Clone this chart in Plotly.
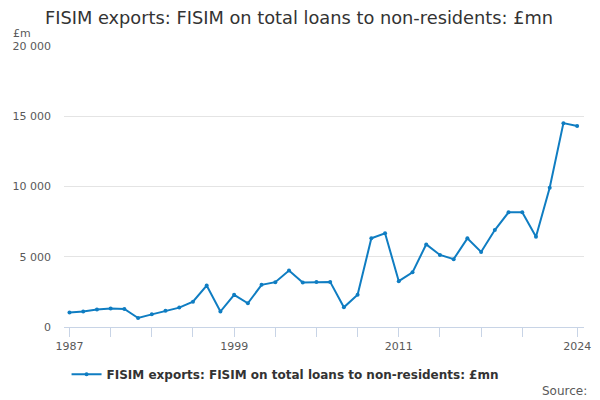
import plotly.graph_objects as go

years = list(range(1987, 2025))
values = [1040, 1110, 1250, 1310, 1290, 640, 900, 1150, 1380, 1800,
          2950, 1100, 2290, 1690, 3000, 3190, 4020, 3170, 3210, 3210,
          1400, 2290, 6310, 6670, 3260, 3890, 5880, 5130, 4830, 6310,
          5340, 6900, 8160, 8170, 6430, 9910, 14510, 14300]
series_name = "FISIM exports: FISIM on total loans to non-residents: £mn"
tick_years = [1987, 1990, 1993, 1996, 1999, 2002, 2005, 2008, 2011, 2014, 2017, 2020, 2024]
tick_labels = ["1987", "", "", "", "1999", "", "", "", "2011", "", "", "", "2024"]
y_ticks = [0, 5000, 10000, 15000, 20000]
y_labels = ["0", "5 000", "10 000", "15 000", "20 000"]

# The page body has an 8px margin, so the figure is sized 592x392 and offset.
color = "#0f7dc2"
fig = go.Figure()
fig.add_trace(go.Scatter(
    x=years, y=values, mode="lines+markers", name=series_name,
    line=dict(color=color, width=2), marker=dict(size=4, color=color),
    showlegend=True,
))
fig.update_layout(
    width=592, height=392,
    margin=dict(l=56, r=16, t=37.5, b=72.7, autoexpand=False),
    paper_bgcolor="white", plot_bgcolor="white",
    font=dict(family="DejaVu Sans", color="#595959", size=11),
    title=dict(text="FISIM exports: FISIM on total loans to non-residents: £mn",
               x=0.4916, xanchor="center", y=0.9745, yanchor="middle",
               font=dict(family="DejaVu Sans", size=17.8, color="#333333")),
    showlegend=True,
    legend=dict(orientation="h", x=0.468, xref="container", xanchor="center",
                y=0.066, yref="container", yanchor="middle", itemwidth=30,
                font=dict(family="DejaVu Sans", size=12, color="#333333", weight="bold")),
    xaxis=dict(range=[1986.6, 2024.5], tickvals=tick_years, ticktext=tick_labels,
               showgrid=False, ticks="outside", ticklen=9, tickcolor="#c8d4e6",
               showline=True, linecolor="#c8d4e6", linewidth=1, zeroline=False,
               automargin=False, tickfont=dict(size=11, color="#595959")),
    yaxis=dict(range=[0, 20000], tickvals=y_ticks, ticktext=y_labels,
               showgrid=True, gridcolor="#e4e4e4", zeroline=False, automargin=False,
               ticklabelstandoff=12, tickfont=dict(size=11, color="#595959")),
    annotations=[
        dict(text="£m", xref="paper", yref="paper", x=-0.102, y=1.044,
             xanchor="left", yanchor="middle", showarrow=False,
             font=dict(size=11, color="#595959")),
        dict(text="Source:", xref="paper", x=1.0096, xanchor="right",
             yref="paper", y=-0.226, yanchor="middle", showarrow=False,
             font=dict(size=12, color="#595959")),
    ],
)
fig.write_html("out.html")
